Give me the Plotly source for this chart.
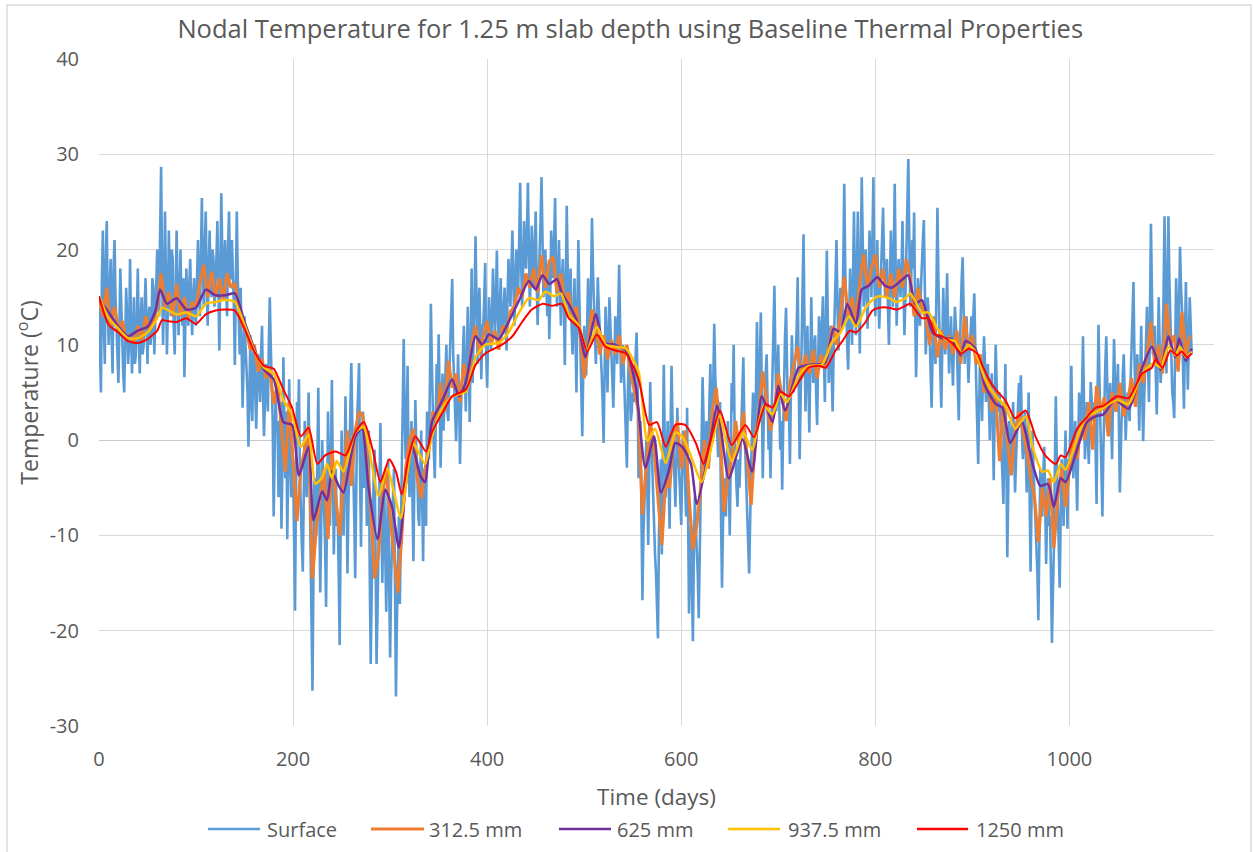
import plotly.graph_objects as go

# ---------------- DATA ----------------
# Surface temperature, even days 0,2,4,...
surface_even = [
    14, 5, 22, 8, 23, 10, 19, 7, 21, 12,
    6, 18, 9, 5, 16, 8, 19, 7, 15, 9,
    18, 7, 15, 10, 17, 8, 14, 11, 16, 12,
    20, 13, 28.7, 10, 24, 9, 22, 13, 19, 9,
    22, 11, 20, 12, 6.6, 18, 12, 19, 11, 17,
    12, 21, 13, 25.4, 14, 24, 12, 22, 15, 19,
    16, 23, 9.4, 25.9, 15, 21, 13, 24, 17, 18,
    7.9, 24, 12, 16, 3.4, 13, 8, -0.7, 11, 2,
    10, 1.2, 9, 4, 12, 0.4, 8, 3, 15, 6,
    -8, 5, 2, -3, -9.3, 8.7, -4, -10.4, 6.4, -6,
    -2, -17.9, 4, 6.4, -8, -13.8, 2, -6, 5, -12,
    -26.3, -4, -10, 5.5, -16, 0, -7, -17.5, 3, -9,
    6.3, -12, -3, -8, -21.5, 1, -10, 4.6, -14, -2,
    8.1, -6, -14.5, 2, 8.1, -11.2, 3, -4, -9, 1,
    -23.5, -8, -1, -23.5, -12, 1.8, -15, -5, -18, -2,
    -22.8, -9, -3, -26.9, -14, -17.2, -5, 10.6, -2, 7.8,
    -6, 2, -12.7, 4.2, -3, -9, 1, -12.7, -4, 3,
    -2, 14.3, 2, -4, 8, 11.1, -2.9, 7, 4, 10,
    2, 10, 16.9, 5, -0.1, 9, -2.5, 6, 12, 3,
    14, 1.9, 18, 10, 21.4, 8, 16, 6.4, 12, 18.6,
    5.5, 15, 9.4, 18, 11, 19.9, 10, 17, 12, 16,
    9.4, 19, 14, 22, 12, 20, 16, 27, 14, 23,
    18, 27, 14, 22.5, 16, 24, 12.1, 19, 27.6, 15,
    20, 13, 10.6, 22, 17, 25.4, 14, 21, 12, 19,
    7.9, 24.6, 13, 18, 9, 17, 5, 21, 10, 0.4,
    12, 6.8, 17, 10, 23.3, 14, 8, 17.1, 12, 7,
    -0.3, 14, 5, 15, 9, 3.4, 13, 8, 18.4, 6,
    10, 4, -2.9, 9, 2, 5, 7, 11.3, -4, 2,
    -16.8, -6, 0, -11, 6.1, -3, -9, -14, -20.8, -5,
    -12, 7.9, -6, 2, -9.3, 7.8, -2, -7, 3.4, -4,
    -8.9, 1, -4, 3.4, -18.2, -9, -21.1, -6, -11, -18.7,
    -7, 6.6, -3, 2, -1.8, 8, 0, 12.2, 4, -1.8,
    4, -15.5, -4, -8, 2, -10, 6, 10, -3, -7,
    -5, 3, 8.7, -2, -8, -14, -3, 5, -0.7, 12.4,
    2, 13.4, -4, 6, 9, -1, -4, 8, 16.2, 3,
    10, -1, -5.2, 8, 13.9, 2, -2.5, 11, 5, 9,
    17.1, -2, 9, 21.6, 3, 12, 0.8, 15, 6, 11,
    1.6, 13, 8, 15.1, 4, 19.9, 6, 12, 3, 14,
    21, 9.4, 16, 12, 26.9, 13, 7.4, 18, 10, 24,
    11, 24, 9.1, 27.6, 14, 20, 11.7, 22, 15, 27.6,
    13, 21, 11.7, 18, 24.4, 15, 19, 10, 22, 14,
    26.9, 12, 19, 15, 23, 11, 20, 29.5, 14, 21,
    23.9, 6.6, 17, 12, 20, 23.1, 9, 15, 11, 3.4,
    13, 8, 24.4, 10, 3.4, 16, 9, 17.5, 7, 13,
    5.7, 14, 10, 2.1, 15, 19.2, 8, 13, 6, 12,
    11, 15.4, 5, -2.5, 9, 2, 10.9, 4, 8, 0,
    7, -4.2, 10, 3, 5, -1, -6.7, 8, -12.3, 2,
    -3, 4, -5.5, 1, 6, 6.8, -2, 3, -5.5, 5,
    -13.8, 1, -6, -10, -18.9, -3, -8, -0.7, -13, -4,
    -8, -21.3, -11.5, 4.6, -6, -15.5, -2, -9, 1, -9.3,
    -3, 7.8, -4, 2, -7.4, 5, 0, 10.9, -2, 4,
    -2.5, 6.1, 2, 4, -6.7, 12.1, 1, -8, 5, 10.9,
    1, 6, -2, 10.6, 3, 8, -5.5, 4, 9, 0,
    5, 2, 10, 16.6, 4, 9, 1, 12, -0.1, 8,
    14, 4, 22.7, 9, 12, 2.7, 15, 6, 10, 23.5,
    7, 23.5, 12, 5, 2.3, 17, 9, 20.3, 14, 3.3,
    16.6, 5.3, 15, 9,
]
# Surface temperature, odd days 1,3,5,...
surface_odd = [
    9, 17, 12, 19, 14, 16, 11, 18, 15, 10,
    12, 14, 7, 11, 13, 10, 12, 11, 8, 13,
    11, 13, 9, 14, 12, 13, 10, 17, 9, 15,
    16, 22, 18, 15, 17, 14, 16, 20, 12, 15,
    16, 15, 14, 17, 12, 15, 16, 14, 15, 13,
    17, 16, 19, 18, 20, 16, 18, 17, 20, 14,
    19, 14, 17, 20, 18, 16, 20, 17, 21, 14,
    18, 17, 9, 11, 8, 10, 5, 7, 4, 9,
    5, 6, 7, 9, 5, 4, 6, 10, 10, 2,
    -2, 1, -6, 4, -3, 2, 3, -2, -1, -4,
    -10, -5, 0, -3, -11, -4, -3, -1, -4, -18,
    -14, -7, -2, -6, -9, -4, -11, -6, -4, -2,
    -4, -6, -9, -14, -10, -5, -4, -3, -7, 3,
    2, -8, -5, 5, -3, -2, -5, -1, -6, -14,
    -16, -4, -11, -18, -5, -9, -8, -12, -10, -15,
    -15, -6, -20, -19, -8, -10, 2, 3, 1, -3,
    -2, -6, -4, -1, -8, -4, -6, -3, -9, 1,
    6, 8, -1, 4, 2, 5, 2, 1, 7, 3,
    7, 12, 9, 3, 4, 5, 3, 10, 7, 8,
    8, 10, 6, 15, 13, 14, 11, 12, 15, 9,
    11, 12, 13, 14, 15, 13, 14, 11, 14, 12,
    15, 16, 18, 17, 16, 15, 21, 19, 18, 20,
    22, 20, 18, 19, 20, 17, 16, 23, 19, 17,
    16, 18, 15, 19, 21, 18, 17, 16, 17, 15,
    16, 18, 15, 12, 13, 11, 14, 15, 6, 7,
    9, 12, 13, 16, 18, 10, 12, 14, 9, 4,
    7, 10, 11, 12, 6, 8, 11, 13, 12, 8,
    7, 1, 5, 6, 3, 4, 9, 6, 0, -8,
    -10, -2, -5, -3, 1, -7, -12, -17, -10, -2,
    -2, 0, -3, -4, 1, 2, -5, -2, -1, -6,
    -3, -1, -8, -10, -13, -15, -12, -9, -14, -12,
    0, 2, -1, 1, 4, 3, 6, 7, 1, 2,
    -8, -9, -6, -3, -4, -2, 3, 1, -5, -2,
    -1, 5, 2, -5, -11, -7, 1, 3, 5, 6,
    8, 5, 2, 7, 3, 1, 2, 11, 9, 6,
    4, 2, 1, 11, 7, 4, 5, 7, 8, 12,
    7, 4, 14, 12, 8, 6, 8, 9, 10, 5,
    8, 11, 12, 9, 12, 13, 9, 7, 9, 17,
    14, 13, 15, 19, 18, 10, 12, 14, 17, 16,
    18, 15, 19, 21, 17, 15, 17, 19, 21, 17,
    17, 16, 15, 20, 19, 17, 14, 16, 18, 20,
    18, 16, 17, 18, 16, 15, 24, 21, 17, 18,
    14, 12, 14, 16, 21, 16, 12, 13, 7, 9,
    10, 16, 17, 7, 9, 12, 13, 11, 10, 9,
    10, 12, 6, 9, 17, 13, 11, 9, 9, 13,
    13, 10, 2, 4, 6, 7, 8, 6, 4, 5,
    2, 3, 6, 4, 2, -3, 1, -2, -5, -1,
    1, -1, -2, 3, 2, 1, 0, -1, 0, -6,
    -6, -3, -8, -14, -11, -5, -4, -6, -8, -9,
    -14, -16, -3, -2, -11, -8, -5, -3, -4, -2,
    2, 1, -1, -3, -1, 3, 5, 4, 1, 0,
    2, 4, 3, -1, 5, 6, -3, -1, 8, 4,
    3, 2, 5, 6, 5, 2, -1, 7, 5, 3,
    4, 6, 13, 9, 7, 5, 7, 5, 4, 10,
    8, 13, 16, 10, 7, 8, 10, 8, 15, 16,
    15, 17, 9, 4, 10, 13, 14, 16, 8, 10,
    11, 10, 12,
]

# 312.5 mm node, every 4 days from day 0
d312_step = 4
d312 = [
    15, 13, 16, 12, 14, 11.5, 12.5, 10.5, 11, 10.2,
    12, 10.5, 13, 11.5, 12.5, 14, 17.5, 14, 15.5, 13,
    16.4, 13, 15, 12.8, 14.5, 14, 16.5, 18.4, 15, 17.7,
    15, 17, 14.7, 17.5, 16, 16.5, 14, 12, 11.5, 9.5,
    10, 7.2, 8.5, 6.5, 7.5, 3.8, 6, 1, -3.3, 4,
    -2, -8.5, -3, -1, 1.5, -14.5, -9, -6, -3, -10.4,
    -1, -6, -10, -4, 1, -4.8, 1, 3, 2.5, -2,
    -7, -14.5, -12, -6, -3, -8, -12, -16, -10, -3,
    0, 1.2, -4, -6.1, -3, -1, 3, 2, 6, 3,
    8.3, 5.5, 7, 4, 8, 6, 10, 12, 9, 11,
    12.5, 10, 11.5, 9.5, 12, 11.5, 13.5, 14, 16, 15,
    17.5, 16, 18, 15.5, 19.4, 16, 18.8, 19.2, 15.5, 17.5,
    14.5, 15.5, 13, 14, 11, 6.5, 10, 13.7, 12, 9,
    11, 8.5, 10.5, 9, 11, 8, 10, 7, 5, 3,
    -7.8, -3, 2, -1, -6, -11, -4, -5, 0, 2,
    -3, 1, -6, -11.5, -9, -5, 0, -3, 3, 5.5,
    1, -7.5, -4, -2, 2, -1, 3, -2, -6.8, 0,
    3, 7.2, 4, 1, 3, 7, 4.5, 2, 6, 8,
    9.8, 6.5, 9, 7, 9.5, 6.5, 9, 7.5, 10, 12,
    10, 13, 17.1, 13, 15, 12.5, 16.5, 19.5, 16, 18,
    19.5, 16, 18, 15, 17.5, 15, 18, 16, 19, 17,
    13, 16, 14, 12.8, 10, 12.8, 8.7, 11.5, 9.5, 11,
    9, 11.5, 8, 13, 9.5, 11, 8, 9, 5, 6.5,
    3, 5, -2.2, 4, 0, -3.7, 1, 3, 1, -1,
    -4, -6, -10.7, -5, -8, -4, -11.3, -6, -3, -7,
    -3, 0, -2, 2, 0, 4, -1, 5.7, 3, 4.5,
    0.4, 5, 3, 6, 2.5, 4, 6.5, 3.5, 8, 6,
    9, 12.4, 8, 10, 7, 14.3, 10, 11, 7.2, 13.4,
    9, 11,
]

d625_days = [0, 10, 20, 30, 40, 50, 58, 63, 70, 80, 90, 100, 110, 120, 130, 140, 150, 160, 170, 180,
             190, 199, 206, 216, 221, 230, 235, 240, 247, 252, 264, 271, 278, 287, 295, 302, 309, 316,
             323, 331, 336, 343, 354, 364, 371, 378, 388, 395, 402, 412, 422, 433, 443, 450, 457, 464,
             472, 477, 484, 494, 501, 512, 520, 532, 543, 553, 563, 572, 579, 587, 594, 601, 610, 616,
             628, 637, 649, 663, 673, 683, 694, 700, 707, 721, 731, 748, 757, 764, 771, 780, 786, 793,
             802, 810, 817, 826, 834, 841, 848, 859, 869, 879, 888, 893, 903, 913, 924, 931, 939, 951,
             962, 970, 978, 984, 991, 996, 1010, 1018, 1027, 1035, 1047, 1061, 1075, 1085, 1094, 1102,
             1109, 1113, 1120, 1126]
d625 = [14.7, 13.4, 11.9, 10.9, 11.5, 11.9, 13.5, 15.8, 14.3, 14.9, 13.7, 13.9, 15.8, 15.2, 15.2, 15.4,
        12.4, 9.6, 7.4, 6.4, 1.9, 1.6, -3.7, -0.7, -8.4, -5.4, -6.3, -3.3, -4.8, -5.5, 0.4, 1.2, -5.2,
        -10.4, -5.2, -7.0, -11.3, -4.8, -0.7, -3.7, -4.4, 1.9, 4.2, 6.4, 4.6, 6.1, 10.9, 10.0, 11.1, 10.6,
        12.4, 14.7, 16.7, 15.8, 17.3, 16.4, 16.9, 15.4, 14.3, 12.1, 8.7, 13.2, 10.2, 10.0, 9.4, 5.7, -2.9,
        0.4, -5.5, -3.3, -0.3, -0.7, -2.5, -6.7, -1.4, 3.6, -4.0, 0.1, -3.3, 4.6, 1.9, 5.7, 3.1, 7.6, 7.9,
        8.1, 11.7, 11.3, 14.3, 12.2, 15.8, 16.2, 17.1, 16.2, 16.0, 16.7, 17.3, 14.3, 14.7, 11.3, 10.7,
        10.6, 8.9, 10.4, 9.6, 5.7, 3.8, 3.4, -0.3, 1.9, -2.5, -4.8, -4.6, -7.0, -4.0, -4.4, -0.3, 1.9,
        2.5, 2.7, 4.2, 3.3, 7.6, 9.8, 7.4, 10.9, 8.7, 10.7, 8.3, 9.6]

d937_days = [0, 10, 20, 30, 40, 50, 60, 65, 70, 80, 90, 100, 110, 120, 130, 140, 150, 160, 170, 180,
             190, 199, 208, 216, 223, 230, 235, 240, 245, 252, 264, 273, 281, 288, 297, 304, 311, 318,
             324, 336, 343, 354, 364, 378, 388, 398, 412, 422, 433, 443, 453, 460, 469, 476, 484, 494,
             503, 513, 522, 532, 543, 556, 565, 573, 584, 594, 601, 609, 621, 632, 639, 652, 664, 673,
             685, 694, 702, 709, 721, 731, 745, 755, 764, 773, 780, 790, 797, 803, 814, 822, 831, 836,
             848, 855, 864, 872, 882, 889, 896, 903, 913, 924, 934, 944, 955, 962, 972, 978, 984, 991,
             996, 1010, 1018, 1027, 1035, 1049, 1061, 1075, 1087, 1094, 1102, 1109, 1114, 1120, 1126]
d937 = [15.1, 12.8, 11.7, 10.7, 10.7, 11.3, 12.8, 13.9, 13.7, 13.2, 13.4, 13.0, 14.3, 14.5, 14.7, 14.5,
        12.1, 9.4, 7.6, 7.0, 4.2, 2.7, -0.7, 0.6, -4.6, -3.9, -2.5, -4.0, -2.2, -3.3, 0.8, 1.4, -2.5,
        -5.9, -2.9, -5.5, -8.2, -3.3, -0.3, -2.5, 0.4, 3.4, 4.6, 5.1, 8.7, 10.0, 10.2, 11.3, 13.4, 14.9,
        14.7, 15.6, 15.1, 15.4, 13.2, 12.1, 9.4, 11.9, 10.0, 9.8, 9.6, 7.2, -0.1, 1.2, -2.4, 0.8, 0.4,
        -1.4, -4.4, -0.3, 2.7, -2.2, 0.8, -1.0, 3.6, 2.7, 4.9, 4.0, 6.8, 7.8, 7.9, 10.2, 11.3, 13.0, 11.9,
        13.9, 14.7, 15.1, 14.9, 14.5, 14.9, 15.4, 13.4, 13.4, 11.7, 10.6, 10.4, 9.1, 10.0, 9.3, 6.4, 4.6,
        3.6, 1.2, 2.5, -0.7, -3.3, -3.2, -4.4, -2.5, -3.1, 0.8, 2.5, 2.9, 3.4, 4.2, 3.8, 7.0, 8.1, 7.6,
        9.8, 8.9, 9.8, 8.7, 9.3]

d1250_days = [0, 10, 20, 30, 40, 50, 60, 65, 70, 80, 90, 100, 110, 120, 130, 140, 150, 160, 170, 180,
              190, 199, 208, 216, 225, 233, 244, 254, 264, 273, 282, 290, 299, 306, 312, 319, 326, 337,
              343, 354, 364, 378, 388, 398, 415, 426, 436, 446, 457, 467, 477, 484, 495, 503, 513, 522,
              532, 543, 556, 567, 575, 584, 594, 604, 615, 623, 630, 640, 652, 666, 675, 687, 694, 702,
              711, 721, 731, 742, 749, 759, 766, 774, 780, 790, 797, 804, 814, 822, 831, 836, 848, 855,
              862, 869, 879, 889, 896, 905, 910, 917, 924, 934, 944, 955, 965, 975, 986, 991, 996, 1008,
              1017, 1027, 1035, 1049, 1061, 1075, 1085, 1089, 1096, 1104, 1111, 1116, 1121, 1126]
d1250 = [15.1, 12.1, 11.3, 10.4, 10.2, 10.6, 11.5, 12.6, 12.5, 12.4, 12.8, 12.2, 13.2, 13.6, 13.7, 13.6,
         11.7, 9.3, 7.8, 7.5, 5.3, 3.4, 0.4, 1.3, -2.5, -1.6, -1.2, -1.6, 0.8, 1.9, -1.0, -4.4, -2.0,
         -3.3, -5.7, -1.8, 0.4, -1.2, 0.8, 2.9, 4.6, 5.3, 7.9, 9.1, 10.0, 10.9, 12.4, 13.7, 14.3, 14.1,
         14.3, 12.8, 11.7, 9.3, 11.1, 9.8, 9.4, 9.1, 6.4, 1.6, 1.9, -0.7, 1.6, 1.6, -0.3, -2.5, -0.1, 3.1,
         -0.5, 1.6, 0.3, 3.8, 3.4, 5.1, 4.6, 6.1, 7.6, 7.8, 7.6, 9.4, 10.4, 11.5, 11.3, 12.4, 13.6, 13.9,
         13.9, 13.7, 14.1, 14.3, 12.8, 12.8, 11.1, 10.9, 10.2, 9.1, 9.6, 9.1, 7.9, 6.4, 5.3, 4.2, 2.3,
         3.1, 0.4, -1.6, -2.5, -1.6, -1.8, 1.2, 2.3, 3.4, 3.6, 4.6, 4.4, 7.0, 7.6, 8.5, 7.6, 9.4, 8.9,
         9.3, 8.7, 9.1]

series_names = ["Surface", "312.5 mm", "625 mm", "937.5 mm", "1250 mm"]
series_colors = ["#5B9BD5", "#ED7D31", "#7030A0", "#FFC000", "#FF0000"]
series_widths = [2.6, 3.2, 2.5, 2.5, 2]

title_text = "Nodal Temperature for 1.25 m slab depth using Baseline Thermal Properties"
x_title = "Time (days)"
y_title = "Temperature (<sup>o</sup>C)"
x_ticks = [0, 200, 400, 600, 800, 1000]
x_tick_labels = ["0", "200", "400", "600", "800", "1000"]
y_ticks = [-30, -20, -10, 0, 10, 20, 30, 40]
y_tick_labels = ["-30", "-20", "-10", "0", "10", "20", "30", "40"]

# ---------------- FIGURE ----------------
surf_pts = sorted([(2 * i, v) for i, v in enumerate(surface_even)] +
                  [(2 * i + 1, v) for i, v in enumerate(surface_odd)])
surface_days = [p[0] for p in surf_pts]
surface_vals = [p[1] for p in surf_pts]
d312_days = [i * d312_step for i in range(len(d312))]

xs = [surface_days, d312_days, d625_days, d937_days, d1250_days]
ys = [surface_vals, d312, d625, d937, d1250]

fig = go.Figure()
for i in range(5):
    line = dict(color=series_colors[i], width=series_widths[i])
    if i >= 2:
        line.update(shape="spline", smoothing=0.6)
    fig.add_trace(go.Scatter(x=xs[i], y=ys[i], mode="lines", name=series_names[i], line=line,
                             showlegend=False))

W, H = 1253, 852
ml, mr, mt, mb = 99, 39, 59, 126
pw, ph = W - ml - mr, H - mt - mb


def px_x(px):
    return (px - ml) / pw


def px_y(py):
    return (H - mb - py) / ph


# legend (drawn as line samples + text labels)
legend_y = 829
legend_line_px = [(208, 260), (371, 424), (559, 611), (728, 780), (917, 968)]
legend_text_px = [265, 427, 615, 786, 974]
shapes = [dict(type="rect", xref="paper", yref="paper",
               x0=px_x(7), x1=px_x(1251), y0=px_y(870), y1=px_y(5),
               line=dict(color="#D9D9D9", width=1.5), layer="below")]
annotations = []
for i in range(5):
    x0, x1 = legend_line_px[i]
    shapes.append(dict(type="line", xref="paper", yref="paper",
                       x0=px_x(x0), x1=px_x(x1), y0=px_y(legend_y), y1=px_y(legend_y),
                       line=dict(color=series_colors[i], width=max(series_widths[i], 2.5))))
    annotations.append(dict(text=series_names[i], xref="paper", yref="paper",
                            x=px_x(legend_text_px[i]), y=px_y(legend_y),
                            xanchor="left", yanchor="middle", showarrow=False,
                            font=dict(size=20, color="#595959")))

fig.update_layout(
    width=W, height=H,
    margin=dict(l=ml, r=mr, t=mt, b=mb),
    paper_bgcolor="white", plot_bgcolor="white",
    font=dict(family="Open Sans", color="#595959", size=20),
    title=dict(text=title_text, font=dict(size=25.5, color="#595959"),
               xref="container", x=0.503, xanchor="center",
               yref="container", y=1 - 29 / H, yanchor="middle"),
    xaxis=dict(range=[0, 1149], tickvals=x_ticks, ticktext=x_tick_labels,
               showgrid=True, gridcolor="#D9D9D9", gridwidth=1, automargin=False,
               zeroline=False, showline=False, ticks="", tickfont=dict(size=20),
               ticklabelstandoff=19,
               title=dict(text=x_title, font=dict(size=22.5), standoff=18)),
    yaxis=dict(range=[-30, 40], tickvals=y_ticks, ticktext=y_tick_labels,
               showgrid=True, gridcolor="#D9D9D9", gridwidth=1, automargin=False,
               zeroline=True, zerolinecolor="#C8C8C8", zerolinewidth=1, showline=False, ticks="",
               tickfont=dict(size=20), ticklabelstandoff=19,
               title=dict(text=y_title, font=dict(size=23), standoff=4)),
    showlegend=False,
    shapes=shapes,
    annotations=annotations,
)

fig.write_html("out.html", config={"displayModeBar": False})
